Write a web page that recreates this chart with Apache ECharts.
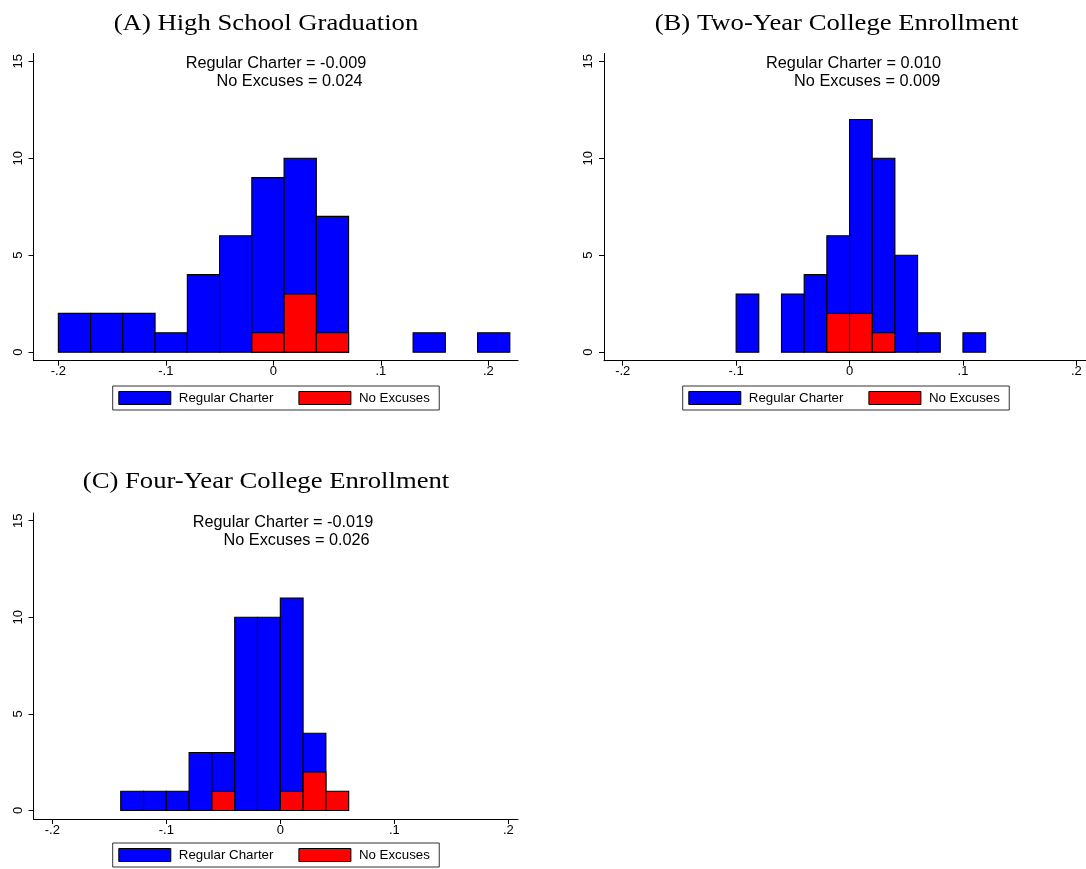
<!DOCTYPE html>
<html>
<head>
<meta charset="utf-8">
<script src="https://cdn.jsdelivr.net/npm/echarts@6/dist/echarts.min.js"></script>
<style>
  html, body { margin: 0; padding: 0; background: #fff; }
  #chart { width: 1086px; height: 869px; }
</style>
</head>
<body>
<div id="chart"></div>
<script>
// ---- Panel titles and group means ----
const panelTitles = ['(A) High School Graduation', '(B) Two-Year College Enrollment', '(C) Four-Year College Enrollment'];
const regularMeans = [-0.009, 0.010, -0.019];
const noExcusesMeans = [0.024, 0.009, 0.026];
const seriesNames = ['Regular Charter', 'No Excuses'];

// ---- Axis ticks ----
const xTickValues = [-0.2, -0.1, 0, 0.1, 0.2];
const xTickLabels = ['-.2', '-.1', '0', '.1', '.2'];
const yTickValues = [0, 5, 10, 15];
const yTickLabels = ['0', '5', '10', '15'];

// ---- (A) High school graduation: bins of width .03 ----
const gradBinWidth = 0.03;
const gradBinLeft = [-0.20, -0.17, -0.14, -0.11, -0.08, -0.05, -0.02, 0.01, 0.04, 0.07, 0.10, 0.13, 0.16, 0.19];
const gradRegular = [2, 2, 2, 1, 4, 6, 9, 10, 7, 0, 0, 1, 0, 1];
const gradNoExcuses = [0, 0, 0, 0, 0, 0, 1, 3, 1, 0, 0, 0, 0, 0];

// ---- (B) Two-year college enrollment: bins of width .02 ----
const twoYrBinWidth = 0.02;
const twoYrBinLeft = [-0.10, -0.08, -0.06, -0.04, -0.02, 0.00, 0.02, 0.04, 0.06, 0.08, 0.10];
const twoYrRegular = [3, 0, 3, 4, 6, 12, 10, 5, 1, 0, 1];
const twoYrNoExcuses = [0, 0, 0, 0, 2, 2, 1, 0, 0, 0, 0];

// ---- (C) Four-year college enrollment: bins of width .02 ----
const fourYrBinWidth = 0.02;
const fourYrBinLeft = [-0.14, -0.12, -0.10, -0.08, -0.06, -0.04, -0.02, 0.00, 0.02, 0.04];
const fourYrRegular = [1, 1, 1, 3, 3, 10, 10, 11, 4, 0];
const fourYrNoExcuses = [0, 0, 0, 0, 1, 0, 0, 1, 2, 1];

const BLUE = '#0000ff';
const RED = '#ff0000';
const SANS = '"Liberation Sans", Arial, sans-serif';
const SERIF = '"Liberation Serif", "Times New Roman", serif';

function binData(left, width, counts) {
  return left.map((l, i) => [l, +(l + width).toFixed(4), counts[i]]);
}

function histSeries(name, color, idx, data) {
  return {
    type: 'custom',
    name: name,
    xAxisIndex: idx,
    yAxisIndex: idx,
    encode: { x: [0, 1], y: 2 },
    itemStyle: { color: color, borderColor: '#000', borderWidth: 1 },
    data: data,
    renderItem: function (params, api) {
      const n = api.value(2);
      if (!n) return null;
      const topLeft = api.coord([api.value(0), n]);
      const bottomRight = api.coord([api.value(1), 0]);
      return {
        type: 'rect',
        shape: {
          x: topLeft[0],
          y: topLeft[1],
          width: bottomRight[0] - topLeft[0],
          height: bottomRight[1] - topLeft[1]
        },
        style: { fill: color, stroke: '#000', lineWidth: 1.1 }
      };
    }
  };
}

// plot-region layout for the three panels
const grids = [
  { left: 33.5, top: 53.5, width: 484.5, height: 307.2 },
  { left: 604, top: 53.5, width: 484.5, height: 307.2 },
  { left: 33.5, top: 513, width: 484.5, height: 306 }
];
const xRanges = [[-0.2231, 0.2276], [-0.2165, 0.2085], [-0.2165, 0.2085]];

function makeXAxis(i) {
  return {
    type: 'value',
    gridIndex: i,
    min: xRanges[i][0],
    max: xRanges[i][1],
    splitLine: { show: false },
    axisLine: { show: true, onZero: false, lineStyle: { color: '#000', width: 1 } },
    axisTick: { show: true, customValues: xTickValues, length: 5, lineStyle: { color: '#000' } },
    axisLabel: {
      customValues: xTickValues,
      margin: 4.5,
      color: '#000',
      fontFamily: SANS,
      fontSize: 13,
      formatter: v => xTickLabels[xTickValues.findIndex(t => Math.abs(t - v) < 1e-9)]
    }
  };
}

function makeYAxis(i) {
  return {
    type: 'value',
    gridIndex: i,
    min: -0.44,
    max: 15.4,
    splitLine: { show: false },
    axisLine: { show: true, onZero: false, lineStyle: { color: '#000', width: 1 } },
    axisTick: { show: true, customValues: yTickValues, length: 5, lineStyle: { color: '#000' } },
    axisLabel: {
      customValues: yTickValues,
      rotate: 90,
      margin: 9,
      color: '#000',
      fontFamily: SANS,
      fontSize: 13,
      formatter: v => yTickLabels[yTickValues.indexOf(v)]
    }
  };
}

function makeLegend(left, top) {
  return {
    left: left,
    top: top,
    orient: 'horizontal',
    data: seriesNames,
    icon: 'rect',
    itemWidth: 52,
    itemHeight: 13,
    itemGap: 25,
    padding: [5, 9.4, 5, 5.6],
    borderColor: '#333',
    borderWidth: 1,
    selectedMode: false,
    itemStyle: { borderColor: '#000', borderWidth: 1 },
    textStyle: { color: '#000', fontFamily: SANS, fontSize: 13.3, padding: [0, 0, 0, 3] }
  };
}

const chart = echarts.init(document.getElementById('chart'), null, { renderer: 'canvas' });

// titles and mean annotations
const titleCenters = [[266, 23.7], [836.5, 23.7], [266, 481.6]];
const noteCenters = [[276, 63.7], [853.6, 63.7], [283, 522.5]];
const graphics = [];
panelTitles.forEach((t, i) => {
  graphics.push({
    type: 'text',
    x: titleCenters[i][0],
    y: titleCenters[i][1],
    scaleX: 1.16,
    style: { text: t, font: '23px ' + SERIF, fill: '#000', textAlign: 'center', textVerticalAlign: 'middle' }
  });
  graphics.push({
    type: 'text',
    x: noteCenters[i][0],
    y: noteCenters[i][1],
    style: {
      text: 'Regular Charter = ' + regularMeans[i].toFixed(3),
      font: '16.3px ' + SANS, fill: '#000', textAlign: 'center', textVerticalAlign: 'middle'
    }
  });
  graphics.push({
    type: 'text',
    x: noteCenters[i][0],
    y: noteCenters[i][1] + 17.6,
    style: {
      text: '      No Excuses = ' + noExcusesMeans[i].toFixed(3),
      font: '16.3px ' + SANS, fill: '#000', textAlign: 'center', textVerticalAlign: 'middle'
    }
  });
});

chart.setOption({
  animation: false,
  backgroundColor: '#fff',
  grid: grids,
  xAxis: [0, 1, 2].map(makeXAxis),
  yAxis: [0, 1, 2].map(makeYAxis),
  legend: [makeLegend(112.7, 386), makeLegend(682.7, 386), makeLegend(112.7, 843)],
  graphic: graphics,
  series: [
    histSeries(seriesNames[0], BLUE, 0, binData(gradBinLeft, gradBinWidth, gradRegular)),
    histSeries(seriesNames[1], RED, 0, binData(gradBinLeft, gradBinWidth, gradNoExcuses)),
    histSeries(seriesNames[0], BLUE, 1, binData(twoYrBinLeft, twoYrBinWidth, twoYrRegular)),
    histSeries(seriesNames[1], RED, 1, binData(twoYrBinLeft, twoYrBinWidth, twoYrNoExcuses)),
    histSeries(seriesNames[0], BLUE, 2, binData(fourYrBinLeft, fourYrBinWidth, fourYrRegular)),
    histSeries(seriesNames[1], RED, 2, binData(fourYrBinLeft, fourYrBinWidth, fourYrNoExcuses))
  ]
});
</script>
</body>
</html>
